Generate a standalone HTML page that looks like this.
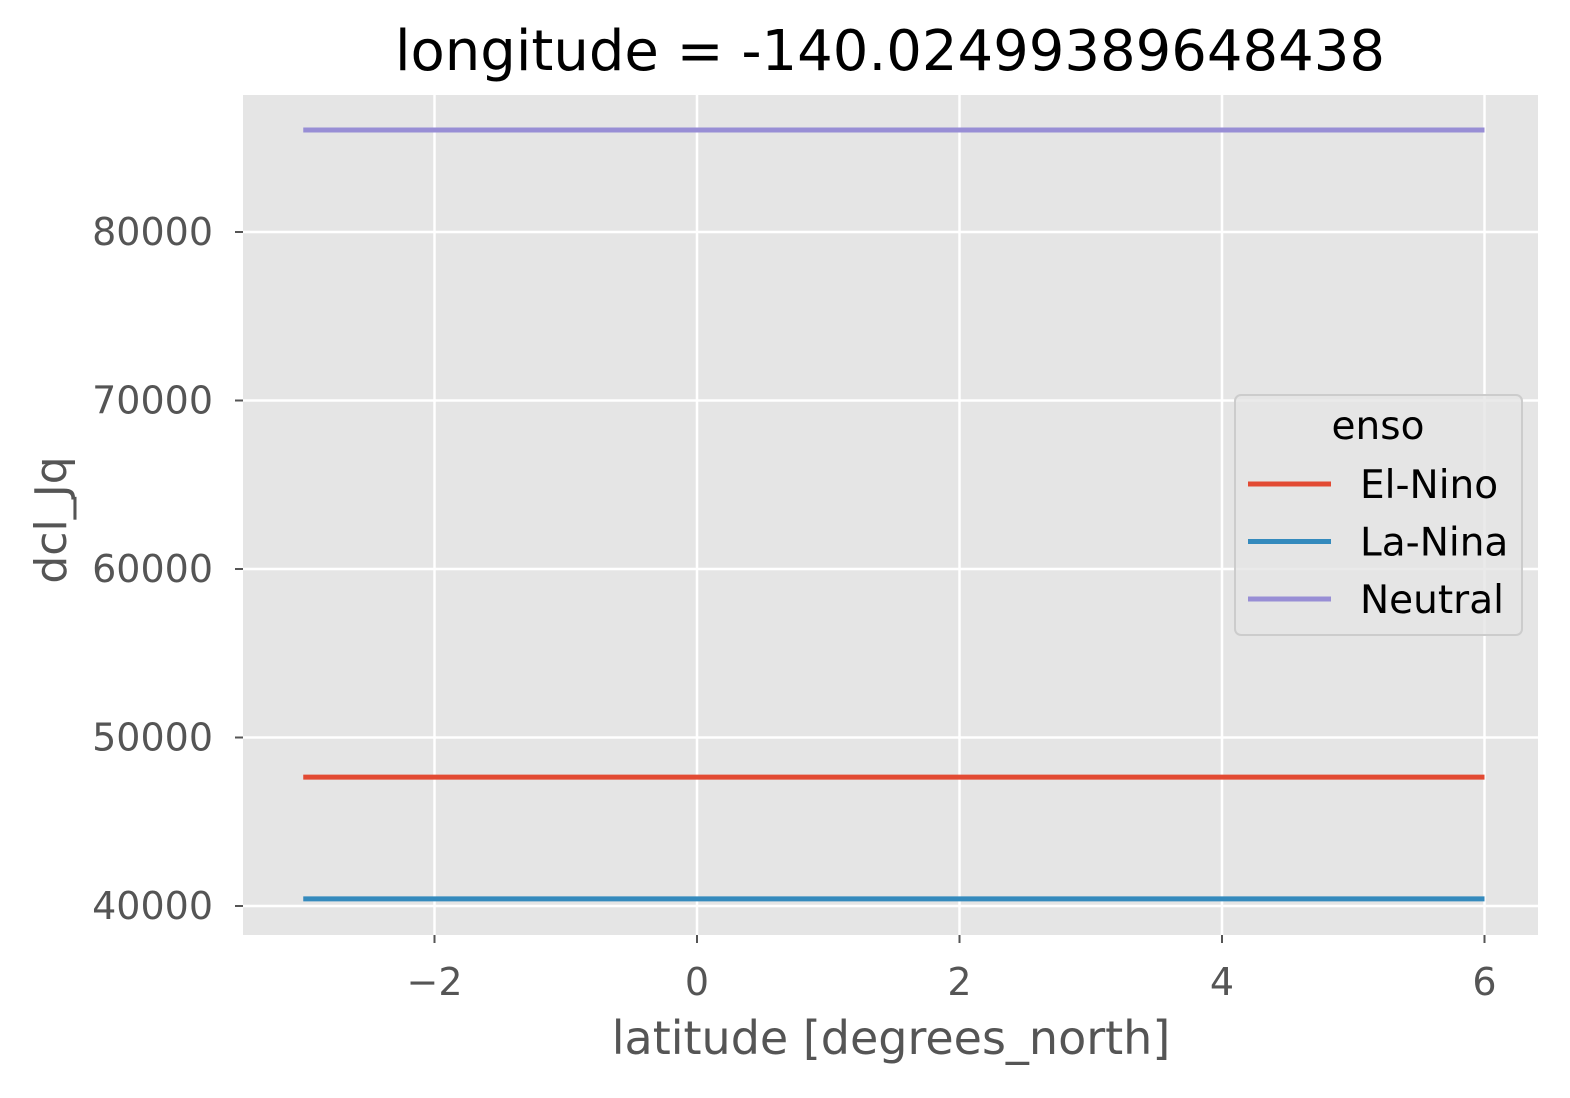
<!DOCTYPE html>
<html><head><meta charset="utf-8"><style>
body{margin:0;background:#fff}
svg text{font-family:"DejaVu Sans","Liberation Sans",sans-serif}
</style></head><body>
<svg id="chart" width="1570" height="1093" viewBox="0 0 1570 1093" xmlns="http://www.w3.org/2000/svg">
<rect x="243" y="95" width="1295" height="840" fill="#e5e5e5"/>
<g id="grid"></g>
<g id="ticks"></g>
<g id="series"></g>
<text x="890" y="70" font-size="56" text-anchor="middle" fill="#000">longitude = -140.02499389648438</text>
<text x="891" y="1054" font-size="46" text-anchor="middle" fill="#555">latitude [degrees_north]</text>
<text transform="translate(66,520) rotate(-90)" font-size="44" text-anchor="middle" fill="#555">dcl_Jq</text>
<g>
<rect x="1235" y="395" width="287" height="240" rx="6" fill="#e5e5e5" fill-opacity="0.8" stroke="#cccccc" stroke-width="2"/>
<text x="1378" y="439" font-size="39" text-anchor="middle" fill="#000">enso</text>
<g id="legend-items"></g>
</g>
</svg>
<script>
const categories = ["El-Nino","La-Nina","Neutral"];
const colors = ["#E24A33","#348ABD","#988ED5"];
const latitudes = [-3,-2,-1,0,1,2,3,4,5,6];
const elNino = [47650,47650,47650,47650,47650,47650,47650,47650,47650,47650];
const laNina = [40420,40420,40420,40420,40420,40420,40420,40420,40420,40420];
const neutral = [86050,86050,86050,86050,86050,86050,86050,86050,86050,86050];
const xTicks = [-2,0,2,4,6];
const xTickLabels = ["\u22122","0","2","4","6"];
const yTicks = [40000,50000,60000,70000,80000];
const yTickLabels = ["40000","50000","60000","70000","80000"];

const NS="http://www.w3.org/2000/svg";
const xs = v => 697 + (v-0)*131.25;
const ys = v => 906 - (v-40000)*0.01685;
function mk(tag, attrs, parent){const e=document.createElementNS(NS,tag);for(const k in attrs)e.setAttribute(k,attrs[k]);parent.appendChild(e);return e;}
const grid=document.getElementById('grid'), ticks=document.getElementById('ticks'), ser=document.getElementById('series'), leg=document.getElementById('legend-items');
xTicks.forEach((t,i)=>{
  const x=xs(t);
  const g=mk('line',{x1:x,x2:x,y1:95,y2:935,stroke:'#fff','stroke-width':2.5},grid);
  
  
  const tk=mk('line',{x1:x,x2:x,y1:935,y2:943,stroke:'#555','stroke-width':2},ticks);
  
  
  const tx=mk('text',{x:x,y:995,'font-size':38,'text-anchor':'middle',fill:'#555'},ticks);
  tx.textContent=xTickLabels[i];
  
  
});
yTicks.forEach((t,i)=>{
  const y=ys(t);
  const g=mk('line',{x1:243,x2:1538,y1:y,y2:y,stroke:'#fff','stroke-width':2.5},grid);
  
  
  const tk=mk('line',{x1:235,x2:243,y1:y,y2:y,stroke:'#555','stroke-width':2},ticks);
  
  
  const tx=mk('text',{x:213,y:y+13,'font-size':38,'text-anchor':'end',fill:'#555'},ticks);
  tx.textContent=yTickLabels[i];
  
  
});
[elNino,laNina,neutral].forEach((vals,i)=>{
  const pts=latitudes.map((l,j)=>xs(l)+','+ys(vals[j])).join(' ');
  const p=mk('polyline',{points:pts,fill:'none',stroke:colors[i],'stroke-width':5},ser);
  
  
  const ly=484+i*57.5;
  const ll=mk('line',{x1:1248,x2:1331,y1:ly,y2:ly,stroke:colors[i],'stroke-width':5},leg);
  
  
  const lt=mk('text',{x:1360,y:ly+14,'font-size':39,fill:'#000'},leg);
  lt.textContent=categories[i];
  
  
});
</script>
</body></html>
